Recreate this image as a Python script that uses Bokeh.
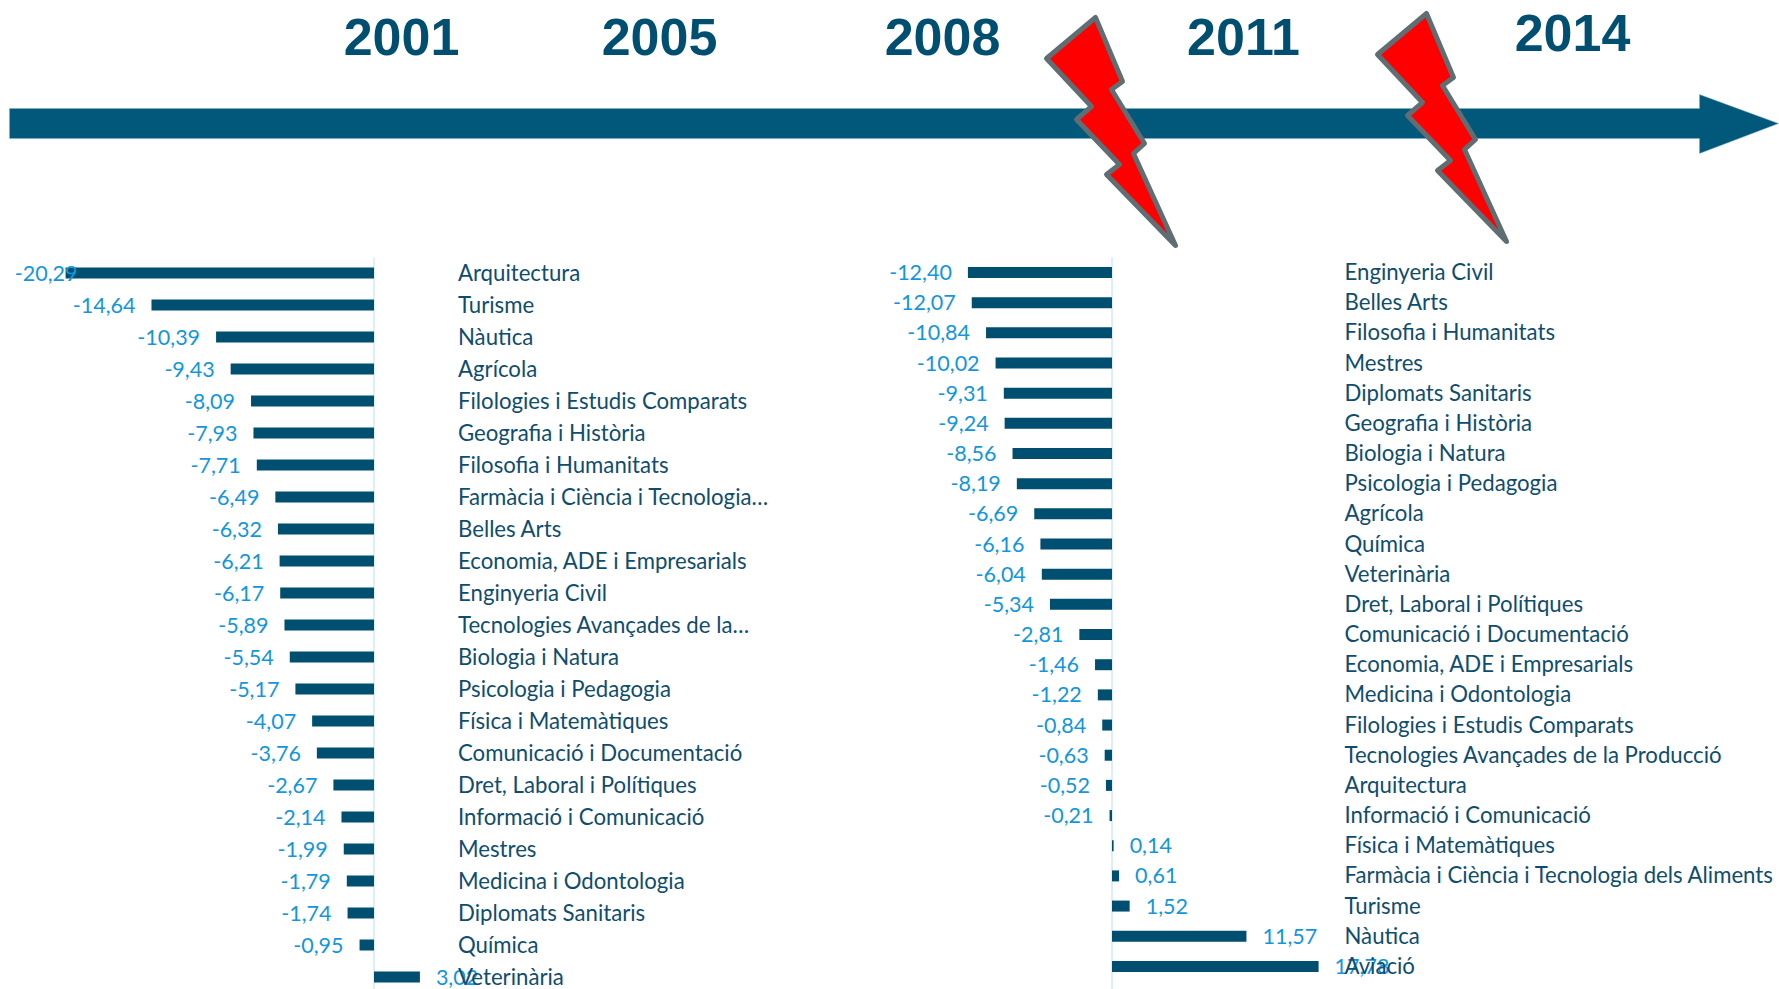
from bokeh.plotting import figure
from bokeh.models import Range1d, ColumnDataSource
from bokeh.core.properties import value
from bokeh.embed import file_html
from bokeh.resources import INLINE

years = ["2001", "2005", "2008", "2011", "2014"]

left_categories = ["Arquitectura", "Turisme", "Nàutica", "Agrícola", "Filologies i Estudis Comparats",
    "Geografia i Història", "Filosofia i Humanitats", "Farmàcia i Ciència i Tecnologia…", "Belles Arts",
    "Economia, ADE i Empresarials", "Enginyeria Civil", "Tecnologies Avançades de la…", "Biologia i Natura",
    "Psicologia i Pedagogia", "Física i Matemàtiques", "Comunicació i Documentació", "Dret, Laboral i Polítiques",
    "Informació i Comunicació", "Mestres", "Medicina i Odontologia", "Diplomats Sanitaris", "Química", "Veterinària"]
left_values = [-20.29, -14.64, -10.39, -9.43, -8.09, -7.93, -7.71, -6.49, -6.32, -6.21, -6.17, -5.89, -5.54,
    -5.17, -4.07, -3.76, -2.67, -2.14, -1.99, -1.79, -1.74, -0.95, 3.02]

right_categories = ["Enginyeria Civil", "Belles Arts", "Filosofia i Humanitats", "Mestres", "Diplomats Sanitaris",
    "Geografia i Història", "Biologia i Natura", "Psicologia i Pedagogia", "Agrícola", "Química", "Veterinària",
    "Dret, Laboral i Polítiques", "Comunicació i Documentació", "Economia, ADE i Empresarials",
    "Medicina i Odontologia", "Filologies i Estudis Comparats", "Tecnologies Avançades de la Producció",
    "Arquitectura", "Informació i Comunicació", "Física i Matemàtiques",
    "Farmàcia i Ciència i Tecnologia dels Aliments", "Turisme", "Nàutica", "Aviació"]
right_values = [-12.40, -12.07, -10.84, -10.02, -9.31, -9.24, -8.56, -8.19, -6.69, -6.16, -6.04, -5.34, -2.81,
    -1.46, -1.22, -0.84, -0.63, -0.52, -0.21, 0.14, 0.61, 1.52, 11.57, 17.78]

W, H = 1779, 989
DARK = "#004f71"
BLUE = "#1296dc"
AXIS = "#cfe9fb"

p = figure(width=W, height=H, output_backend="svg", toolbar_location=None,
           x_range=Range1d(0, W), y_range=Range1d(H, 0),
           min_border=0, outline_line_color=None, background_fill_color="white")
p.axis.visible = False
p.grid.visible = False


def panel(name, cats, vals, zero_px, px_per_unit, first_row, row_step, label_px, min_label_right):
    xn, yn = name + "_x", name + "_y"
    p.extra_x_ranges[xn] = Range1d(-zero_px / px_per_unit, (W - zero_px) / px_per_unit)
    p.extra_y_ranges[yn] = Range1d((H - first_row) / row_step, -first_row / row_step)
    rows = list(range(len(cats)))
    gap = 16 / px_per_unit
    anchor = [max(v - gap, (min_label_right - zero_px) / px_per_unit) if v < 0 else v + gap for v in vals]
    src = ColumnDataSource(dict(
        row=rows, val=vals, zero=[0] * len(vals), cat=cats, anchor=anchor,
        lab=[f"{v:.2f}".replace(".", ",") for v in vals],
        align=["right" if v < 0 else "left" for v in vals],
        labx=[(label_px - zero_px) / px_per_unit] * len(vals),
    ))
    p.segment(x0=[0], x1=[0], y0=[(257 - first_row) / row_step], y1=[(H - first_row) / row_step],
              x_range_name=xn, y_range_name=yn, line_color=AXIS, line_width=1.5)
    p.hbar(y="row", left="zero", right="val", height=11 / row_step, source=src,
           x_range_name=xn, y_range_name=yn, fill_color=DARK, line_color=None)
    p.text(x="anchor", y="row", text="lab", source=src, x_range_name=xn, y_range_name=yn,
           text_color=BLUE, text_font=value("Lato"), text_font_size="21.5px",
           text_align="align", text_baseline="middle", y_offset=0)
    p.text(x="labx", y="row", text="cat", source=src, x_range_name=xn, y_range_name=yn,
           text_color="#0f4d6e", text_font=value("Lato"), text_font_size="22.2px",
           text_align="left", text_baseline="middle", y_offset=-1)


panel("l", left_categories, left_values, 373.5, 15.2, 272.5, 32.0, 457.5, 77)
panel("r", right_categories, right_values, 1111.5, 11.62, 272, 30.17, 1344, 0)

# timeline arrow
p.patch(x=[9, 1699, 1699, 1778, 1699, 1699, 9], y=[108, 108, 94, 123, 153, 138, 138],
        fill_color="#02587a", line_color="#7fb0c0", line_width=0.5)

# year labels
p.text(x=[401, 659, 942, 1243, 1572], y=[36, 36, 36, 36, 32], text=years,
       text_color=DARK, text_font=value("Liberation Sans"), text_font_style="bold",
       text_font_size="52px", text_align="center", text_baseline="middle")

# lightning bolts
bolt_x = [1095, 1122, 1111, 1144, 1133, 1175, 1106, 1119, 1076, 1091, 1046]
bolt_y = [17, 81, 89, 143, 153, 245, 174, 164, 119, 106, 58]
for dx, dy in ((0, 0), (331, -4)):
    p.patch(x=[v + dx for v in bolt_x], y=[v + dy for v in bolt_y], fill_color="#ff0000",
            line_color="#5f6e73", line_width=5, line_join="round")

open("out.html", "w").write(file_html(p, INLINE))
